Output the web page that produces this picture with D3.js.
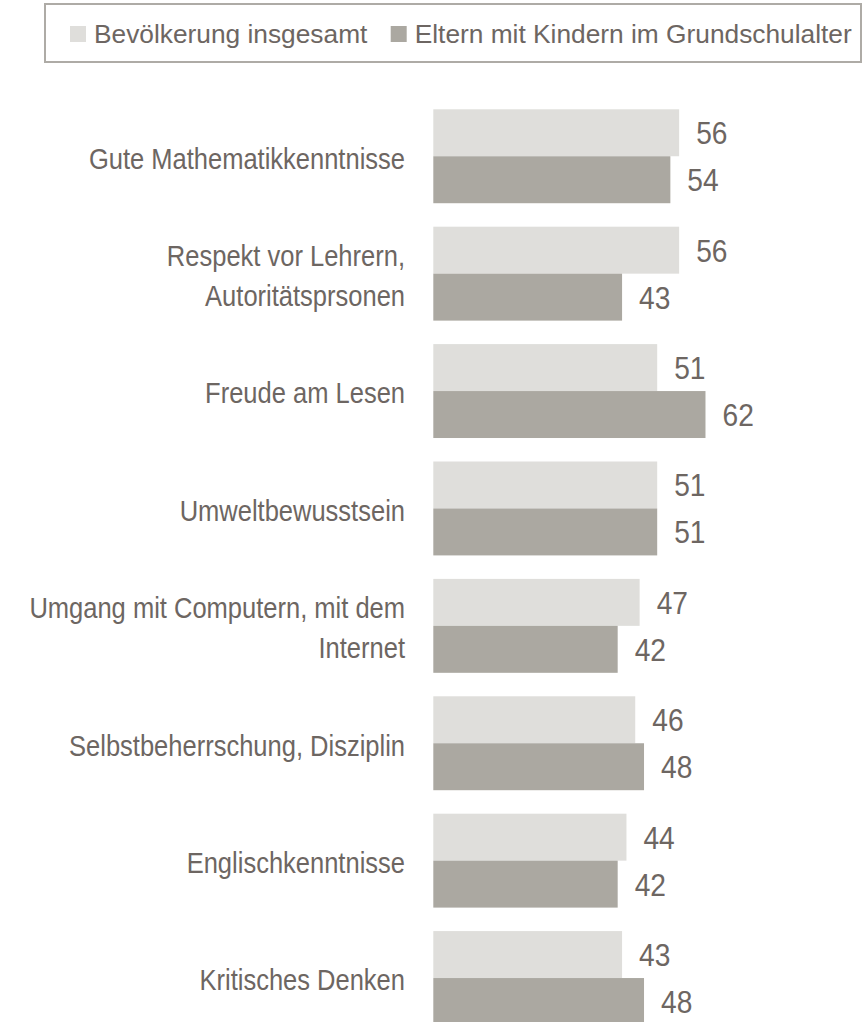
<!DOCTYPE html>
<html>
<head>
<meta charset="utf-8">
<script src="https://cdn.jsdelivr.net/npm/d3@7"></script>
<style>
  html, body { margin: 0; padding: 0; background: #ffffff; }
  svg { display: block; }
  text { font-family: "Liberation Sans", Arial, Helvetica, sans-serif; }
</style>
</head>
<body>
<svg id="chart" width="868" height="1022"></svg>
<script>
// ---- data ----
const categories = [
  ["Gute Mathematikkenntnisse"],
  ["Respekt vor Lehrern,", "Autoritätsprsonen"],
  ["Freude am Lesen"],
  ["Umweltbewusstsein"],
  ["Umgang mit Computern, mit dem", "Internet"],
  ["Selbstbeherrschung, Disziplin"],
  ["Englischkenntnisse"],
  ["Kritisches Denken"]
];
const seriesNames = ["Bevölkerung insgesamt", "Eltern mit Kindern im Grundschulalter"];
const bevoelkerung = [56, 56, 51, 51, 47, 46, 44, 43];
const eltern       = [54, 43, 62, 51, 42, 48, 42, 48];
const seriesColors = ["#dfdedb", "#aba8a1"];

// ---- layout ----
const textColor = "#6d6662";
const svg = d3.select("#chart");
const catKeys = categories.map((c, i) => "c" + i);
const seriesValues = [bevoelkerung, eltern];

const x = d3.scaleLinear().domain([0, 100]).range([433.3, 433.3 + 439]);
const y = d3.scaleBand().domain(catKeys).range([109.3, 109.3 + 915.7]).paddingInner(0.2).paddingOuter(0);
const ySub = d3.scaleBand().domain([0, 1]).range([0, y.bandwidth()]);

const groups = svg.append("g").selectAll("g.grp")
  .data(catKeys)
  .join("g")
  .attr("class", "grp")
  .attr("transform", d => `translate(0,${y(d)})`);

groups.each(function(key, i) {
  const g = d3.select(this);
  [0, 1].forEach(s => {
    const v = seriesValues[s][i];
    g.append("rect")
      .attr("x", x(0))
      .attr("y", ySub(s))
      .attr("width", x(v) - x(0))
      .attr("height", ySub.bandwidth())
      .attr("fill", seriesColors[s]);
    const cy = ySub(s) + ySub.bandwidth() / 2;
    g.append("text")
      .attr("transform", `translate(${x(v) + 17},${cy + 11.5}) scale(0.88,1)`)
      .attr("fill", textColor)
      .attr("font-size", 32)
      .text(v);
  });
  // category label
  const lines = categories[i];
  const cy = y.bandwidth() / 2 + 2;
  const lh = 40;
  lines.forEach((ln, k) => {
    const by = cy + 10.4 + (k - (lines.length - 1) / 2) * lh;
    g.append("text")
      .attr("transform", `translate(405,${by}) scale(0.88,1)`)
      .attr("text-anchor", "end")
      .attr("fill", textColor)
      .attr("font-size", 29)
      .text(ln);
  });
});

// ---- legend ----
const legend = svg.append("g");
legend.append("rect")
  .attr("x", 45).attr("y", 4).attr("width", 816).attr("height", 58)
  .attr("fill", "#ffffff").attr("stroke", "#aeaba6").attr("stroke-width", 2);
const legX = [70, 390.7];
seriesNames.forEach((name, s) => {
  legend.append("rect")
    .attr("x", legX[s]).attr("y", 26).attr("width", 16).attr("height", 16)
    .attr("fill", seriesColors[s]);
  legend.append("text")
    .attr("x", legX[s] + 24).attr("y", 43.3)
    .attr("fill", textColor)
    .attr("font-size", 26.3)
    .text(name);
});
</script>
</body>
</html>
